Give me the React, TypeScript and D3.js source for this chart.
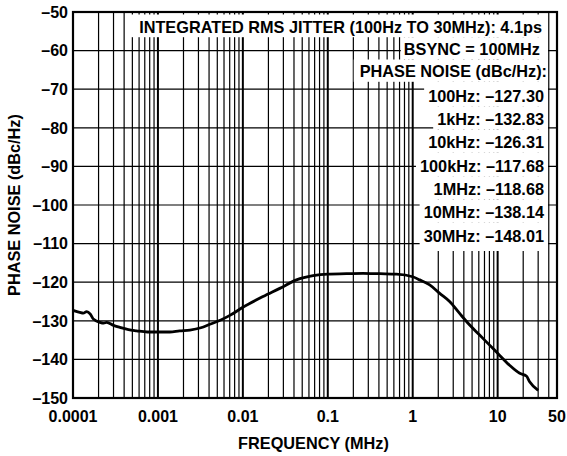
import React, { useEffect, useRef } from 'react';
import * as d3 from 'd3';

// Frequency offset (MHz) and phase noise (dBc/Hz)
const freqMHz = [
  0.0001, 0.00012, 0.000132, 0.000145, 0.00016, 0.000173, 0.000208, 0.00023, 0.000249,
  0.0003, 0.000357, 0.00045, 0.000561, 0.00075, 0.001, 0.00138, 0.0018, 0.00238,
  0.0032, 0.00409, 0.0055, 0.00703, 0.01, 0.0173, 0.0272, 0.0428, 0.0671, 0.1,
  0.166, 0.26, 0.409, 0.643, 1.0, 1.21, 1.585, 2.08, 2.72, 3.57, 4.69, 6.14, 8.05,
  10, 13.8, 18.2, 21.8, 23.8, 30,
];
const phaseNoise = [
  -127.3, -127.8, -128.0, -127.6, -128.3, -129.5, -130.4, -130.6, -130.4,
  -131.2, -131.7, -132.3, -132.6, -132.9, -132.9, -132.9, -132.6, -132.4,
  -131.8, -130.9, -129.8, -128.6, -126.5, -123.7, -121.6, -119.4, -118.3, -117.9,
  -117.8, -117.7, -117.8, -117.9, -118.6, -119.4, -120.7, -122.9, -125.0, -128.1, -131.1, -133.7, -136.3,
  -138.4, -141.5, -143.6, -144.3, -145.8, -148.0,
];

const xTickValues = [0.0001, 0.001, 0.01, 0.1, 1, 10, 50];
const xTickLabels = ['0.0001', '0.001', '0.01', '0.1', '1', '10', '50'];
const yTickValues = [-50, -60, -70, -80, -90, -100, -110, -120, -130, -140, -150];

const headerLines = [
  'INTEGRATED RMS JITTER (100Hz TO 30MHz): 4.1ps',
  'BSYNC = 100MHz',
  'PHASE NOISE (dBc/Hz):',
];
const spotLabels = ['100Hz', '1kHz', '10kHz', '100kHz', '1MHz', '10MHz', '30MHz'];
const spotValues = [-127.3, -132.83, -126.31, -117.68, -118.68, -138.14, -148.01];

const W = 567;
const H = 456;
const L = 73;
const T = 12;
const R = 557;
const B = 398;
const FONT = '"Liberation Sans", Arial, Helvetica, sans-serif';

export default function App() {
  const ref = useRef<SVGSVGElement>(null);

  useEffect(() => {
    const svg = d3.select(ref.current);
    svg.selectAll('*').remove();

    const x = d3.scaleLog().domain([0.0001, 50]).range([L, R]);
    const y = d3.scaleLinear().domain([-50, -150]).range([T, B]);

    const g = svg.append('g');

    // minor + major vertical grid
    const vLines: { v: number; major: boolean }[] = [];
    for (let e = -4; e <= 1; e++) {
      const base = Math.pow(10, e);
      for (let m = 1; m <= 9; m++) {
        const v = base * m;
        if (v > 50 + 1e-9) continue;
        vLines.push({ v, major: m === 1 });
      }
    }
    g.selectAll('line.v')
      .data(vLines.filter((d) => d.v < 49.9 && d.v > 0.00010001))
      .enter()
      .append('line')
      .attr('x1', (d) => x(d.v))
      .attr('x2', (d) => x(d.v))
      .attr('y1', T)
      .attr('y2', B)
      .attr('stroke', '#000')
      .attr('stroke-width', (d) => (d.major ? 2 : 1.2));

    g.selectAll('line.h')
      .data(yTickValues)
      .enter()
      .append('line')
      .attr('x1', L)
      .attr('x2', R)
      .attr('y1', (d) => y(d))
      .attr('y2', (d) => y(d))
      .attr('stroke', '#000')
      .attr('stroke-width', 1.2);

    // annotation boxes
    const baselines = [32.7, 55, 77.3, 101.7, 125, 148.3, 171.7, 195, 218.3, 241.7];
    const rights = [542, 540, 547, 544, 544, 544, 544, 544, 544, 544];
    const pads = [10, 3, 6, 4, 4, 4, 4, 4, 4, 4];
    const texts = [
      ...headerLines,
      ...spotLabels.map((s, i) => `${s}: \u2013${Math.abs(spotValues[i]).toFixed(2)}`),
    ];
    const ann = svg.append('g');
    const rects = ann.append('g');
    const tg = ann.append('g');
    texts.forEach((t, i) => {
      const te = tg
        .append('text')
        .attr('x', rights[i])
        .attr('y', baselines[i])
        .attr('text-anchor', 'end')
        .attr('font-family', FONT)
        .attr('font-weight', 'bold')
        .attr('font-size', 16.3)
        .attr('fill', '#000')
        .text(t);
      const w = (te.node() as SVGTextElement).getComputedTextLength();
      const top = i === 0 ? 14.5 : baselines[i - 1] + 4.5;
      const bottom = i === texts.length - 1 ? 251 : baselines[i] + 4.5;
      rects
        .append('rect')
        .attr('x', rights[i] - w - pads[i])
        .attr('y', top)
        .attr('width', 548 - (rights[i] - w - pads[i]))
        .attr('height', bottom - top)
        .attr('fill', '#fff');
    });

    // curve
    const line = d3
      .line<number>()
      .x((d, i) => x(freqMHz[i]))
      .y((d) => y(d))
      .curve(d3.curveMonotoneX);
    svg
      .append('path')
      .attr('d', line(phaseNoise) as string)
      .attr('fill', 'none')
      .attr('stroke', '#000')
      .attr('stroke-width', 2.8)
      .attr('stroke-linejoin', 'round');

    // border
    svg
      .append('rect')
      .attr('x', L)
      .attr('y', T)
      .attr('width', R - L)
      .attr('height', B - T)
      .attr('fill', 'none')
      .attr('stroke', '#000')
      .attr('stroke-width', 2.2);

    // y tick labels
    svg
      .selectAll('text.yt')
      .data(yTickValues)
      .enter()
      .append('text')
      .attr('x', 68)
      .attr('y', (d) => y(d))
      .attr('dy', '0.36em')
      .attr('text-anchor', 'end')
      .attr('font-family', FONT)
      .attr('font-weight', 'bold')
      .attr('font-size', 16)
      .text((d) => `\u2013${Math.abs(d)}`);

    // x tick labels
    svg
      .selectAll('text.xt')
      .data(xTickValues)
      .enter()
      .append('text')
      .attr('x', (d) => x(d))
      .attr('y', 421.5)
      .attr('text-anchor', 'middle')
      .attr('font-family', FONT)
      .attr('font-weight', 'bold')
      .attr('font-size', 16)
      .text((d, i) => xTickLabels[i]);

    svg
      .append('text')
      .attr('x', 313.5)
      .attr('y', 449)
      .attr('text-anchor', 'middle')
      .attr('font-family', FONT)
      .attr('font-weight', 'bold')
      .attr('font-size', 16.3)
      .text('FREQUENCY (MHz)');

    svg
      .append('text')
      .attr('transform', `translate(20, ${(T + B) / 2}) rotate(-90)`)
      .attr('text-anchor', 'middle')
      .attr('font-family', FONT)
      .attr('font-weight', 'bold')
      .attr('font-size', 16.3)
      .text('PHASE NOISE (dBc/Hz)');
  }, []);

  return (
    <svg
      ref={ref}
      width={W}
      height={H}
      style={{ position: 'absolute', left: 0, top: 0, background: '#fff' }}
    />
  );
}
